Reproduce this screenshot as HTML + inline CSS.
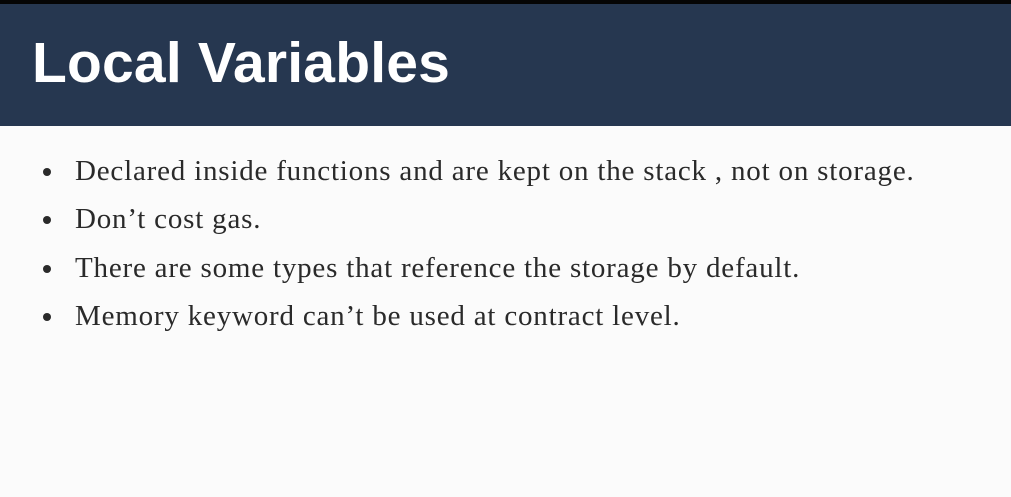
<!DOCTYPE html>
<html><head><meta charset="utf-8"><style>
html,body{margin:0;padding:0;width:1011px;height:497px;overflow:hidden;background:#fbfbfb;}
.top{position:absolute;left:0;top:0;width:1011px;height:4px;background:#050505;}
.hdr{position:absolute;left:0;top:4px;width:1011px;height:122px;background:#263750;}
.title{position:absolute;left:32px;top:28px;font-family:"Liberation Sans",sans-serif;font-weight:bold;font-size:57px;color:#fff;letter-spacing:0.2px;line-height:70px;}
.b{position:absolute;left:75px;font-family:"Liberation Serif",serif;font-size:29px;letter-spacing:0.8px;color:#2a2a2a;line-height:30px;white-space:nowrap;}
.d{position:absolute;left:43px;width:8px;height:8px;border-radius:50%;background:#2a2a2a;}
</style></head><body>
<div class="top"></div>
<div class="hdr"></div>
<div class="title">Local Variables</div>
<div class="d" style="top:168px"></div><div class="b" style="top:156px">Declared inside functions and are kept on the stack , not on storage.</div>
<div class="d" style="top:216px"></div><div class="b" style="top:204px">Don’t cost gas.</div>
<div class="d" style="top:265px"></div><div class="b" style="top:253px">There are some types that reference the storage by default.</div>
<div class="d" style="top:313px"></div><div class="b" style="top:301px">Memory keyword can’t be used at contract level.</div>
</body></html>
